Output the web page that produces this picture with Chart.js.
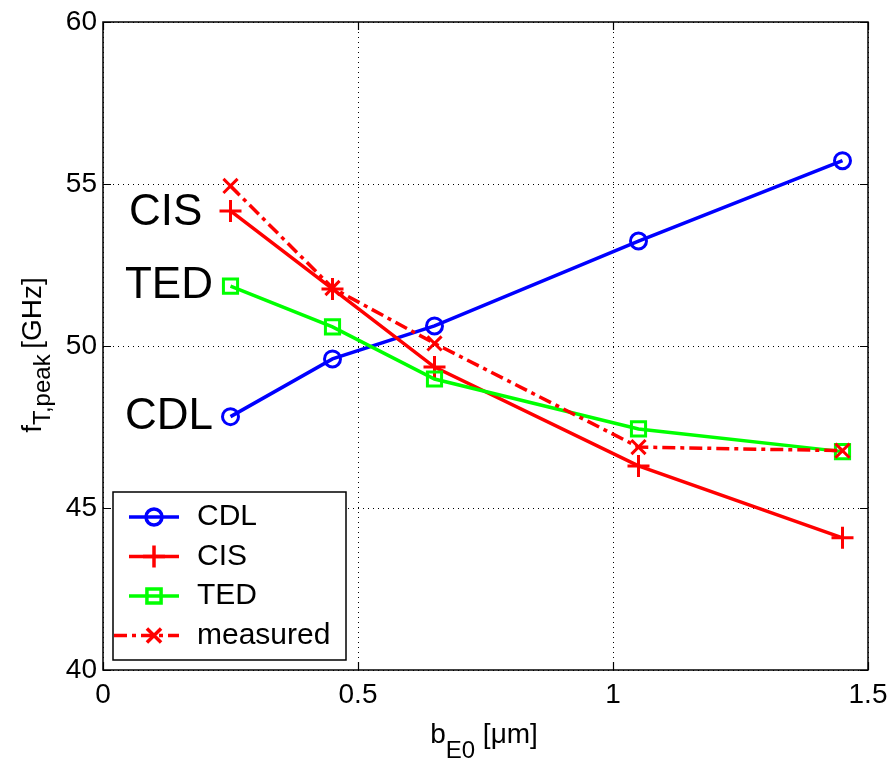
<!DOCTYPE html>
<html>
<head>
<meta charset="utf-8">
<script src="https://cdn.jsdelivr.net/npm/chart.js@4.4.0/dist/chart.umd.min.js"></script>
<style>
  html, body { margin: 0; padding: 0; background: #fff; }
  #wrap { width: 888px; height: 761px; }
</style>
</head>
<body>
<div id="wrap"><canvas id="myChart" width="888" height="761"></canvas></div>
<script>
// data
const bE0 = [0.25, 0.45, 0.65, 1.05, 1.45];
const cdl = [47.82, 49.6, 50.62, 53.24, 55.72];
const cis = [54.17, 51.76, 49.35, 46.3, 44.08];
const ted = [51.85, 50.59, 48.98, 47.44, 46.74];
const measured = [54.94, 51.79, 50.08, 46.88, 46.77];
const xTicks = [0, 0.5, 1, 1.5];
const yTicks = [40, 45, 50, 55, 60];
// text label, x (um), y (GHz)
const sideLabels = [['CIS', 0.051, 54.1], ['TED', 0.043, 51.85], ['CDL', 0.043, 47.8]];

const FONT = '"Liberation Sans", Arial, Helvetica, sans-serif';

function pts(ys) {
  return ys.map(function (y, i) { return { x: bE0[i], y: y }; });
}

// plot box, inward ticks, side labels, axis titles, legend
const extras = {
  id: 'extras',
  afterDraw(chart) {
    const c = chart.ctx;
    const a = chart.chartArea;
    const xs = chart.scales.x, ys = chart.scales.y;
    c.save();
    c.strokeStyle = '#000';
    c.lineWidth = 1.5;
    c.strokeRect(a.left, a.top, a.right - a.left, a.bottom - a.top);
    c.lineWidth = 1.2;
    c.beginPath();
    xTicks.forEach(function (v) {
      const px = Math.round(xs.getPixelForValue(v)) + 0.5;
      c.moveTo(px, a.bottom); c.lineTo(px, a.bottom - 8);
      c.moveTo(px, a.top); c.lineTo(px, a.top + 8);
    });
    yTicks.forEach(function (v) {
      const py = Math.round(ys.getPixelForValue(v)) + 0.5;
      c.moveTo(a.left, py); c.lineTo(a.left + 8, py);
      c.moveTo(a.right, py); c.lineTo(a.right - 8, py);
    });
    c.stroke();

    // CIS / TED / CDL labels
    c.fillStyle = '#000';
    c.font = '44px ' + FONT;
    c.textAlign = 'left';
    c.textBaseline = 'middle';
    sideLabels.forEach(function (l) {
      c.fillText(l[0], xs.getPixelForValue(l[1]), ys.getPixelForValue(l[2]));
    });

    // x title: b_E0 [um]
    c.textBaseline = 'alphabetic';
    const xParts = [['b', 28, 0], ['E0', 24, 15], [' [\u03bcm]', 28, 0]];
    drawParts(c, xParts, 484, 743);

    // y title rotated
    c.save();
    c.translate(41, 355);
    c.rotate(-Math.PI / 2);
    const yParts = [['f', 28, 0], ['T,peak', 24, 9], ['\u2009[GHz]', 28, 0]];
    drawParts(c, yParts, 0, 0);
    c.restore();

    // legend
    const lx = 113, ly = 492, lw = 233, lh = 168;
    c.fillStyle = '#fff';
    c.fillRect(lx, ly, lw, lh);
    c.lineWidth = 1.5;
    c.strokeStyle = '#000';
    c.strokeRect(lx, ly, lw, lh);
    chart.data.datasets.forEach(function (ds, i) {
      const y = ly + 25 + i * 39.5;
      c.save();
      c.strokeStyle = ds.borderColor;
      c.fillStyle = 'rgba(0,0,0,0)';
      c.lineWidth = ds.borderWidth;
      c.setLineDash(ds.borderDash || []);
      c.beginPath();
      if (ds.borderDash.length) {
        c.moveTo(lx + 1, y); c.lineTo(lx + 66, y);
      } else {
        c.moveTo(lx + 16, y); c.lineTo(lx + 66, y);
      }
      c.stroke();
      c.setLineDash([]);
      Chart.helpers.drawPoint(c, {
        pointStyle: ds.pointStyle, radius: ds.pointRadius, rotation: 0,
        borderWidth: ds.pointBorderWidth
      }, lx + 41, y);
      c.restore();
      c.fillStyle = '#000';
      c.font = '30px ' + FONT;
      c.textAlign = 'left';
      c.textBaseline = 'middle';
      c.fillText(ds.label, lx + 84, y);
    });
    c.restore();
  }
};

function drawParts(c, parts, cx, baseY) {
  let w = 0;
  parts.forEach(function (p) { c.font = p[1] + 'px ' + FONT; w += c.measureText(p[0]).width; });
  let x = cx - w / 2;
  c.textAlign = 'left';
  parts.forEach(function (p) {
    c.font = p[1] + 'px ' + FONT;
    c.fillText(p[0], x, baseY + p[2]);
    x += c.measureText(p[0]).width;
  });
}

function series(label, ys, color, style, radius, dash, order) {
  return {
    label: label,
    data: pts(ys),
    borderColor: color,
    backgroundColor: 'rgba(0,0,0,0)',
    pointBorderColor: color,
    pointBackgroundColor: 'rgba(0,0,0,0)',
    borderWidth: 3.5,
    pointBorderWidth: 3,
    pointStyle: style,
    pointRadius: radius,
    pointHoverRadius: radius,
    borderDash: dash,
    tension: 0,
    order: order
  };
}

const ctx = document.getElementById('myChart').getContext('2d');
const myChart = new Chart(ctx, {
  type: 'line',
  data: {
    datasets: [
      series('CDL', cdl, '#0000ff', 'circle', 8, [], 3),
      series('CIS', cis, '#ff0000', 'cross', 11, [], 2),
      series('TED', ted, '#00ff00', 'rect', 10, [], 1),
      series('measured', measured, '#ff0000', 'crossRot', 10, [13, 5, 4, 5], 0)
    ]
  },
  options: {
    responsive: false,
    animation: false,
    devicePixelRatio: 1,
    layout: { padding: { top: 22, right: 20, left: 0, bottom: 0 } },
    plugins: { legend: { display: false }, tooltip: { enabled: false } },
    scales: {
      x: {
        type: 'linear',
        min: 0, max: 1.5,
        afterBuildTicks: function (s) { s.ticks = xTicks.map(function (v) { return { value: v }; }); },
        afterFit: function (s) { s.height = 761 - 670; s.paddingLeft = 0; s.paddingRight = 0; },
        ticks: { color: '#000', font: { family: FONT, size: 28 }, padding: 8, maxRotation: 0,
          callback: function (v) { return String(v); } },
        grid: { color: '#000', lineWidth: 1, drawTicks: false },
        border: { display: false, dash: [1, 4] }
      },
      y: {
        min: 40, max: 60,
        afterBuildTicks: function (s) { s.ticks = yTicks.map(function (v) { return { value: v }; }); },
        afterFit: function (s) { s.width = 103; s.paddingTop = 0; s.paddingBottom = 0; },
        ticks: { color: '#000', font: { family: FONT, size: 28 }, padding: 6,
          callback: function (v) { return String(v); } },
        grid: { color: '#000', lineWidth: 1, drawTicks: false },
        border: { display: false, dash: [1, 4] }
      }
    }
  },
  plugins: [extras]
});
</script>
</body>
</html>
